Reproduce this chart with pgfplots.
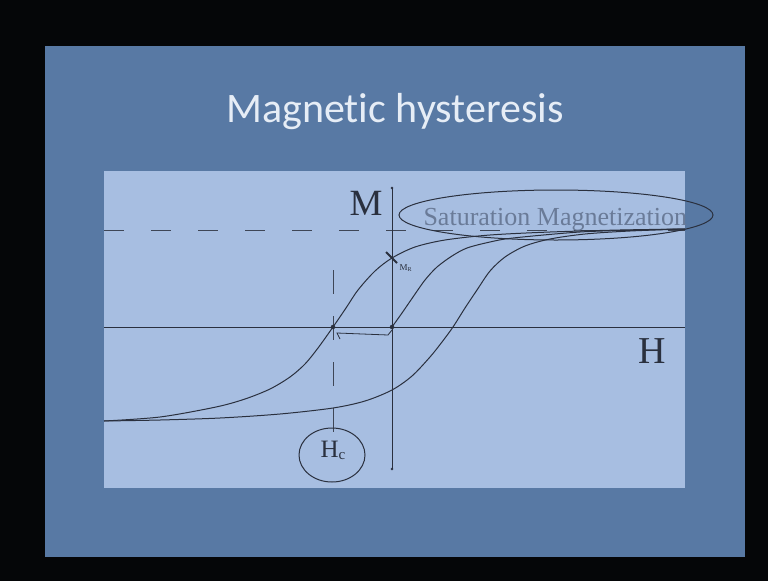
\documentclass[border=0pt]{standalone}
\usepackage{pgfplots}
\pgfplotsset{compat=1.18}
\usepackage{fontspec}
\setmainfont{Liberation Serif}
\newfontfamily\titlefont[Ligatures=NoCommon]{Carlito}

\definecolor{frameblack}{HTML}{050608}
\definecolor{slideblue}{HTML}{5879A4}
\definecolor{panelblue}{HTML}{A7BEE1}
\definecolor{ink}{HTML}{2A303E}
\definecolor{dashgray}{HTML}{3E4656}
\definecolor{titlewhite}{HTML}{E6EDF6}
\definecolor{sattext}{HTML}{6A7B98}

\begin{document}
\begin{tikzpicture}
\begin{axis}[
  scale only axis, width=768pt, height=581pt,
  xmin=0, xmax=768, ymin=0, ymax=581, y dir=reverse,
  hide axis,
]
% slide background
\fill[frameblack] (axis cs:0,0) rectangle (axis cs:768,581);
\fill[slideblue] (axis cs:45,46) rectangle (axis cs:745,557);
\fill[panelblue] (axis cs:104,171) rectangle (axis cs:685,488);

% title
\node[anchor=base, text=titlewhite, font=\titlefont\fontsize{42}{46}\selectfont]
  at (axis cs:395,122) {Magnetic hysteresis};

% saturation level (dashed) and the H axis
\addplot[dashgray, line width=0.9pt, dash pattern=on 20pt off 27pt]
  coordinates {(104,230) (685,230)};
\addplot[ink, line width=0.75pt] coordinates {(104,327) (685,327)};
% M axis
\addplot[ink, line width=0.75pt] coordinates {(392,188) (392,469)};
\addplot[ink, only marks, mark=*, mark size=1.1pt] coordinates {(392,188) (392,469)};
% coercive field marker (dashed vertical)
\addplot[dashgray, line width=0.9pt, dash pattern=on 24pt off 22pt]
  coordinates {(333,270) (333,432)};

% descending branch
\addplot[ink, line width=1pt, smooth, tension=0.5] coordinates {
  (104,421) (160,417) (216,407) (245,399) (270,389) (290,377) (305,364)
  (318,348) (333,327) (346,308) (358,290) (375,271) (392,258) (415,247)
  (445,240) (490,235) (550,232) (620,230) (685,229)};
% initial magnetization curve
\addplot[ink, line width=1pt, smooth, tension=0.5] coordinates {
  (392,327) (402,313) (413,297) (425,280) (437,267) (452,256) (467,248)
  (490,242) (513,238) (580,232) (640,230) (685,229)};
% ascending branch
\addplot[ink, line width=1pt, smooth, tension=0.5] coordinates {
  (104,421) (160,420) (220,418) (280,414) (333,408) (365,401) (392,390)
  (412,376) (430,357) (442,342) (453,327) (465,308) (477,290) (490,271)
  (505,257) (525,246) (550,239) (585,234) (630,231) (685,229)};

% H_c and origin points with the bracket between them
\addplot[ink, only marks, mark=*, mark size=2pt] coordinates {(333,327) (392,327)};
\addplot[ink, line width=0.8pt] coordinates {(340,339) (337,333) (388,335) (392,330)};

% remanence tick
\addplot[ink, line width=2pt] coordinates {(386,252) (397,263)};
\node[anchor=west, text=ink, font=\fontsize{9}{9}\selectfont]
  at (axis cs:396,268) {M\textsubscript{R}};

% labels
\node[anchor=base, text=ink, font=\fontsize{37}{40}\selectfont]
  at (axis cs:366,215) {M};
\node[anchor=base, text=ink, font=\fontsize{38}{40}\selectfont]
  at (axis cs:652,363) {H};
\node[anchor=base west, text=sattext, font=\fontsize{26}{28}\selectfont]
  at (axis cs:420,225) {Saturation Magnetization};
\draw[ink, line width=1pt] (axis cs:556,215) ellipse [x radius=157pt, y radius=25pt];

\node[anchor=base, text=ink, font=\fontsize{25}{26}\selectfont]
  at (axis cs:333,457) {H\raisebox{-2pt}{\fontsize{15}{15}\selectfont c}};
\draw[ink, line width=1pt] (axis cs:332,455) ellipse [x radius=33pt, y radius=27pt];
\end{axis}
\end{tikzpicture}
\end{document}
